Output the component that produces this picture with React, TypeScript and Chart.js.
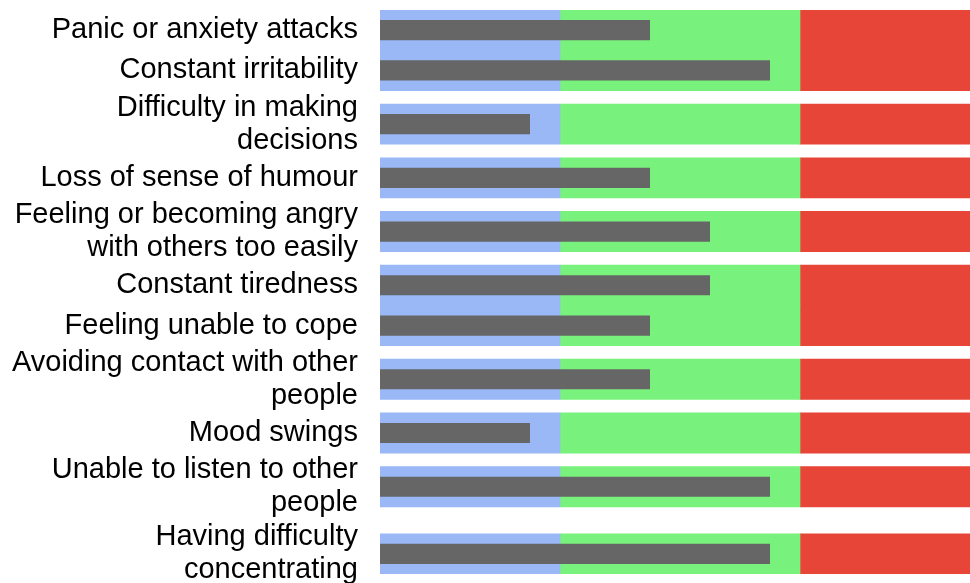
import React, { useEffect, useRef } from "react";
import { Chart, registerables } from "chart.js";

Chart.register(...registerables);

// ---- Data ----
const categories: string[][] = [
  ["Panic or anxiety attacks"],
  ["Constant irritability"],
  ["Difficulty in making", "decisions"],
  ["Loss of sense of humour"],
  ["Feeling or becoming angry", "with others too easily"],
  ["Constant tiredness"],
  ["Feeling unable to cope"],
  ["Avoiding contact with other", "people"],
  ["Mood swings"],
  ["Unable to listen to other", "people"],
  ["Having difficulty", "concentrating"],
];

const scores: number[] = [4.5, 6.5, 2.5, 4.5, 5.5, 5.5, 4.5, 4.5, 2.5, 6.5, 6.5];

const bandLimits: number[] = [0, 3, 7, 10];
const bandNames: string[] = ["Low", "Moderate", "High"];

// ---- Styles ----
const bandColors = ["#99b8f5", "#78f27d", "#e64538"];
const barColor = "#666666";

// ---- Layout helpers (row slots grow with label line count) ----
function computeRowCenters(): number[] {
  const centers: number[] = [];
  let y = 0;
  categories.forEach((lines) => {
    const pad = (lines.length - 1) / 3;
    y += pad;
    centers.push(y + 0.5);
    y += 1 + pad;
  });
  return centers;
}

export default function App() {
  const canvasRef = useRef<HTMLCanvasElement | null>(null);

  useEffect(() => {
    if (!canvasRef.current) return;
    const centers = computeRowCenters();
    const yMax = centers[centers.length - 1] + 0.5;

    const bandDatasets = bandNames.map((name, b) => ({
      label: name,
      data: centers.map((c) => ({ x: [bandLimits[b], bandLimits[b + 1]], y: c })),
      backgroundColor: bandColors[b],
      borderWidth: 0,
      barPercentage: 1,
      categoryPercentage: 1,
      grouped: false,
      order: 2,
    }));

    const chart = new Chart(canvasRef.current, {
      type: "bar",
      data: {
        datasets: [
          {
            label: "Score",
            data: centers.map((c, i) => ({ x: scores[i], y: c })),
            backgroundColor: barColor,
            borderWidth: 0,
            barPercentage: 0.5,
            categoryPercentage: 1,
            grouped: false,
            order: 1,
          } as any,
          ...(bandDatasets as any[]),
        ],
      },
      options: {
        indexAxis: "y",
        animation: false,
        responsive: false,
        layout: { padding: { top: 10, bottom: 9, left: 0, right: 0 } },
        plugins: {
          legend: { display: false },
          tooltip: { enabled: false },
        },
        scales: {
          x: {
            type: "linear",
            min: bandLimits[0],
            max: bandLimits[bandLimits.length - 1],
            display: false,
            offset: false,
          },
          y: {
            type: "linear",
            reverse: true,
            offset: false,
            min: 0,
            max: yMax,
            grid: { display: false, drawTicks: false, offset: false },
            border: { display: false },
            ticks: {
              autoSkip: false,
              padding: 22,
              color: "#000000",
              font: { family: "'Liberation Sans', Arial, sans-serif", size: 29, lineHeight: 1.14 },
              callback: (_v: any, index: number) => categories[index],
            },
            afterBuildTicks: (scale: any) => {
              scale.ticks = centers.map((c) => ({ value: c }));
            },
            afterFit: (scale: any) => {
              scale.width = 380;
              scale.paddingTop = 0;
              scale.paddingBottom = 0;
            },
          },
        },
      } as any,
    });

    return () => chart.destroy();
  }, []);

  return (
    <div
      style={{
        position: "absolute",
        left: 0,
        top: 0,
        width: 970,
        height: 583,
        overflow: "hidden",
        background: "#ffffff",
      }}
    >
      <canvas ref={canvasRef} width={980} height={583} style={{ display: "block" }} />
    </div>
  );
}
